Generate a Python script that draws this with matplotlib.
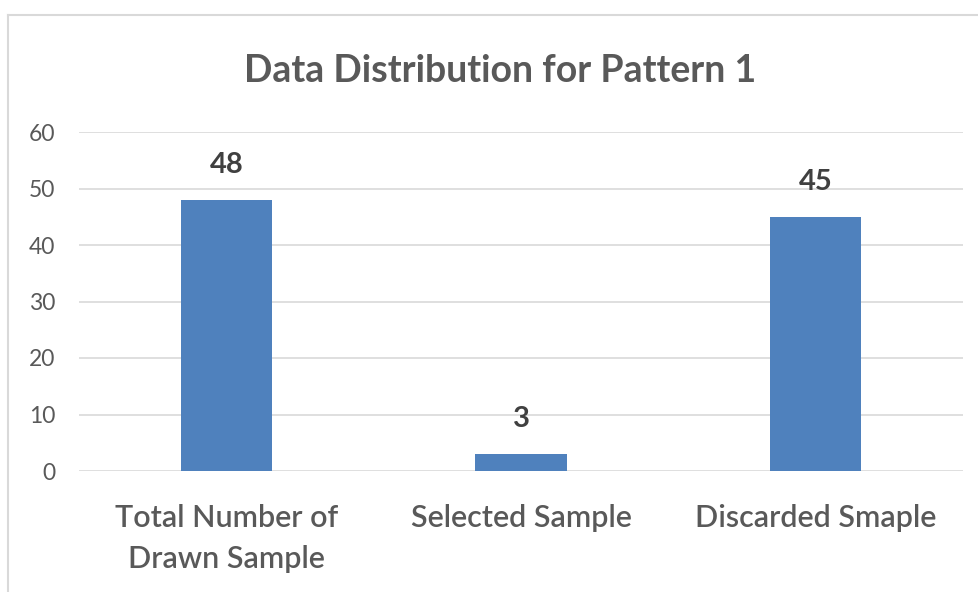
import matplotlib.pyplot as plt
from matplotlib.lines import Line2D

categories = ["Total Number of\nDrawn Sample", "Selected Sample", "Discarded Smaple"]
values = [48, 3, 45]
yticks = [0, 10, 20, 30, 40, 50, 60]

plt.rcParams['font.family'] = ['Lato', 'DejaVu Sans']

fig = plt.figure(figsize=(9.79, 5.92), dpi=100)
ax = fig.add_axes([79 / 979, 1 - 471 / 592, 884 / 979, 339 / 592])

bar_color = "#4F81BD"
text_gray = "#595959"

x = range(len(categories))
bars = ax.bar(x, values, width=0.31, color=bar_color, zorder=3)
for b, v in zip(bars, values):
    ax.annotate(str(v), (b.get_x() + b.get_width() / 2, v), xytext=(0, 25),
                textcoords="offset points", ha="center", va="center",
                fontsize=21, fontweight="bold", color="#404040")

ax.set_xlim(-0.5, 2.5)
ax.set_ylim(0, 60)
ax.set_yticks(yticks)
ax.grid(axis="y", color="#D9D9D9", linewidth=1.2, zorder=0)
ax.set_xticks(list(x))
ax.set_xticklabels(categories, fontsize=22, color=text_gray, fontweight="semibold",
                   linespacing=1.55)
ax.tick_params(axis="y", labelsize=16.5, labelcolor=text_gray, length=0, pad=17)
ax.tick_params(axis="x", length=0, pad=24)
for s in ax.spines.values():
    s.set_visible(False)

fig.text(500 / 979, 1 - 71 / 592, "Data Distribution for Pattern 1", ha="center", va="center",
         fontsize=27, fontweight="bold", color=text_gray)

# chart border (left and top edges)
fig.add_artist(Line2D([8 / 979, 8 / 979], [0, 1 - 15 / 592], color="#D9D9D9", linewidth=1.5))
fig.add_artist(Line2D([8 / 979, 1], [1 - 15 / 592, 1 - 15 / 592], color="#D9D9D9", linewidth=1.5))

fig.savefig("out.png", dpi=100)
